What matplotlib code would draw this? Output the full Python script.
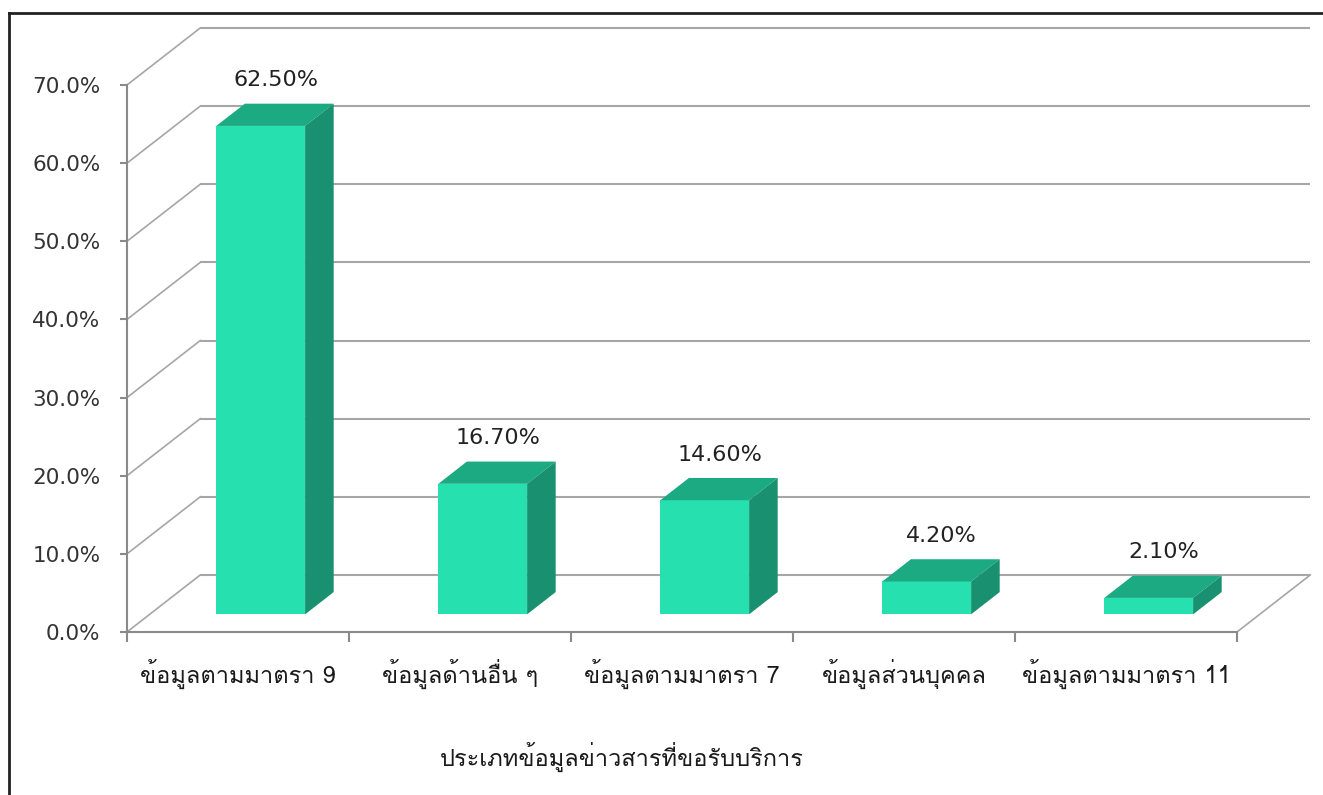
import matplotlib
matplotlib.use("Agg")
import matplotlib.pyplot as plt
from matplotlib import font_manager
from matplotlib.patches import Polygon
from matplotlib.lines import Line2D
from fontTools.ttLib import TTFont

categories = ["ข้อมูลตามมาตรา 9", "ข้อมูลด้านอื่น ๆ", "ข้อมูลตามมาตรา 7",
              "ข้อมูลส่วนบุคคล", "ข้อมูลตามมาตรา 11"]
values = [62.5, 16.7, 14.6, 4.2, 2.1]
value_labels = ["62.50%", "16.70%", "14.60%", "4.20%", "2.10%"]
yticks = [0, 10, 20, 30, 40, 50, 60, 70]
xlabel = "ประเภทข้อมูลข่าวสารที่ขอรับบริการ"


def find_thai_font():
    # look for any installed font that actually has Thai glyphs
    for f in font_manager.fontManager.ttflist:
        try:
            tt = TTFont(f.fname, fontNumber=0, lazy=True)
            cmap = tt.getBestCmap()
            if cmap and 0x0E02 in cmap and 0x0E49 in cmap:
                return f.name
        except Exception:
            pass
    return None


thai = find_thai_font()
fams = [thai, "DejaVu Sans"] if thai else ["DejaVu Sans"]
plt.rcParams["font.family"] = ["DejaVu Sans"]

W, H = 1323, 795
fig = plt.figure(figsize=(W / 100, H / 100), dpi=100)
fig.patch.set_facecolor("white")

# front plane: x 0..5 -> px 127..1237, y 0..70 -> px 632..85
ax = fig.add_axes([127 / W, (H - 632) / H, 1110 / W, 547 / H])
ax.set_xlim(0, 5)
ax.set_ylim(0, 70)
ax.set_facecolor("none")

DX, DY = 0.33, 7.3          # oblique depth offset (category units, percent units)
d0, d1 = 0.31, 0.70         # bar depth span
bw = 0.4
grid_c = "#a6a6a6"
axis_c = "#8a8a8a"

# back wall gridlines + left wall diagonals
for v in yticks:
    ax.plot([DX, 5 + DX], [v + DY, v + DY], color=grid_c, lw=1.5, zorder=1,
            clip_on=False, solid_capstyle="butt")
    ax.plot([0, DX], [v, v + DY], color=grid_c, lw=1.2, zorder=1, clip_on=False)
# floor right edge
ax.plot([5, 5 + DX], [0, DY], color=grid_c, lw=1.2, zorder=1, clip_on=False)

front_c = "#26e0b0"
top_c = "#1baa82"
side_c = "#199170"
for i, v in enumerate(values):
    x0 = i + 0.5 - bw / 2 + d0 * DX
    x1 = x0 + bw
    yb = d0 * DY
    yt = yb + v
    ddx = (d1 - d0) * DX
    ddy = (d1 - d0) * DY
    ax.add_patch(Polygon([(x0, yb), (x1, yb), (x1, yt), (x0, yt)],
                         closed=True, fc=front_c, ec="none", zorder=3, clip_on=False))
    ax.add_patch(Polygon([(x0, yt), (x1, yt), (x1 + ddx, yt + ddy), (x0 + ddx, yt + ddy)],
                         closed=True, fc=top_c, ec="none", zorder=3, clip_on=False))
    ax.add_patch(Polygon([(x1, yb), (x1 + ddx, yb + ddy), (x1 + ddx, yt + ddy), (x1, yt)],
                         closed=True, fc=side_c, ec="none", zorder=3, clip_on=False))
    ax.text(i + 0.5 + 0.17, v + d1 * DY + 3.0, value_labels[i], ha="center", va="center",
            fontsize=16, color="#222222", zorder=4)

for s in ["top", "right"]:
    ax.spines[s].set_visible(False)
for s in ["left", "bottom"]:
    ax.spines[s].set_color(axis_c)
    ax.spines[s].set_linewidth(1.5)
    ax.spines[s].set_zorder(2)

ax.set_yticks(yticks)
ax.set_yticklabels([f"{t:.1f}%" for t in yticks])
ax.tick_params(axis="y", length=5, width=1.5, color=axis_c, pad=14,
               labelsize=15.5, labelcolor="#333333")

ax.set_xticks(range(6))
ax.set_xticklabels([])
ax.set_xticks([i + 0.5 for i in range(5)], minor=True)
ax.set_xticklabels(categories, minor=True, fontsize=17, color="#1a1a1a", family=fams)
ax.tick_params(axis="x", which="major", length=7, width=1.5, color=axis_c)
ax.tick_params(axis="x", which="minor", length=0, pad=19)

ax.text(0.446, -0.229, xlabel, transform=ax.transAxes, ha="center", va="center",
        fontsize=17, color="#1a1a1a", family=fams)

# outer frame (left and top edges visible)
fig.add_artist(Line2D([9 / W, 9 / W], [0, 1 - 13 / H], color="#222222", lw=2))
fig.add_artist(Line2D([9 / W, 1], [1 - 13 / H, 1 - 13 / H], color="#222222", lw=2))

fig.savefig("out.png", dpi=100)
